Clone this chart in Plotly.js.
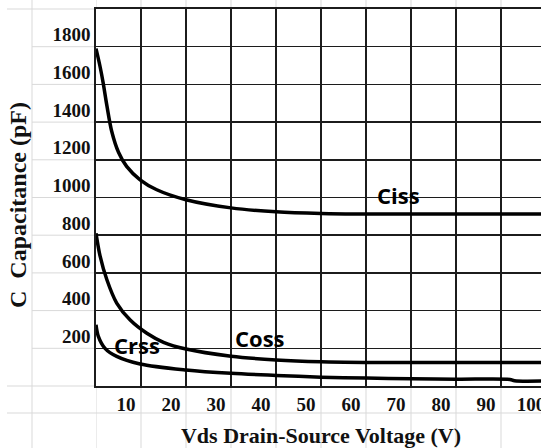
<!DOCTYPE html>
<html>
<head>
<meta charset="utf-8">
<script src="https://cdn.plot.ly/plotly-3.0.1.min.js"></script>
<style>
html,body{margin:0;padding:0;overflow:hidden;background:#ffffff;}
#chart{width:546px;height:448px;}
</style>
</head>
<body>
<div id="chart"></div>
<script>
// ---- data ----
const cissV = [0, 0.9, 1.6, 2.4, 3.5, 5, 6.8, 9.8, 13.5, 20, 30, 40, 50, 60, 70, 80, 90, 100];
const cissC = [1790, 1695, 1607, 1490, 1350, 1240, 1165, 1094, 1041, 988, 945, 924, 915, 912, 912, 912, 912, 912];

const cossV = [0, 0.9, 2.4, 4.6, 7.6, 11.3, 15, 20, 30, 40, 50, 60, 70, 80, 90, 100];
const cossC = [810, 690, 565, 440, 350, 280, 232, 196, 158, 138, 128, 125, 125, 125, 125, 125];

const crssV = [0, 0.5, 2, 4.6, 9.8, 20, 30, 40, 50, 60, 70, 80, 92, 93, 100];
const crssC = [325, 265, 200, 157, 117, 85, 67, 56, 47, 42, 38, 36, 35, 28, 27];

const seriesNames = ['Ciss', 'Coss', 'Crss'];

const xTickVals = [10, 20, 30, 40, 50, 60, 70, 80, 90, 100];
const xTickText = ['10', '20', '30', '40', '50', '60', '70', '80', '90', '100'];
const yTickVals = [200, 400, 600, 800, 1000, 1200, 1400, 1600, 1800];
const yTickText = ['200', '400', '600', '800', '1000', '1200', '1400', '1600', '1800'];

const xTitle = 'Vds Drain-Source Voltage (V)';
const yTitle = 'C  Capacitance (pF)';

// ---- build ----
const curveLine = {color: '#000000', width: 3.5, shape: 'spline', smoothing: 0.9};
const traces = [
  {x: cissV, y: cissC, name: seriesNames[0], mode: 'lines', line: curveLine},
  {x: cossV, y: cossC, name: seriesNames[1], mode: 'lines', line: curveLine},
  {x: crssV, y: crssC, name: seriesNames[2], mode: 'lines', line: curveLine}
];

const L = 96, T = 9, W = 450, H = 377;
const px2x = p => (p - L) / W;
const py2y = p => (T + H - p) / H;
const light = {color: '#d9d9d9', width: 1};
const shapes = [];
shapes.push({type: 'line', xref: 'paper', yref: 'paper', x0: px2x(32), x1: px2x(32), y0: py2y(0), y1: py2y(448), line: light, layer: 'below'});
for (let v = 0; v <= 90; v += 10) {
  shapes.push({type: 'line', xref: 'x', yref: 'paper', x0: v, x1: v, y0: py2y(0), y1: 1, line: light, layer: 'below'});
  shapes.push({type: 'line', xref: 'x', yref: 'paper', x0: v, x1: v, y0: 0, y1: py2y(448), line: light, layer: 'below'});
}
for (let v = 200; v <= 1800; v += 200) {
  shapes.push({type: 'line', xref: 'paper', yref: 'y', x0: px2x(32), x1: 0, y0: v, y1: v, line: light, layer: 'below'});
}
shapes.push({type: 'line', xref: 'paper', yref: 'paper', x0: px2x(7), x1: 0, y0: 1, y1: 1, line: light, layer: 'below'});
shapes.push({type: 'line', xref: 'paper', yref: 'paper', x0: px2x(7), x1: 0, y0: 0, y1: 0, line: light, layer: 'below'});
shapes.push({type: 'line', xref: 'paper', yref: 'paper', x0: px2x(7), x1: px2x(546), y0: py2y(413), y1: py2y(413), line: light, layer: 'below'});

const serif = 'Liberation Serif, Times New Roman, serif';
const labelFont = {family: 'Open Sans, sans-serif', size: 22, color: '#000000', weight: 'bold'};
const annotations = [
  {x: 67.3, y: 1014, text: seriesNames[0]},
  {x: 36.4, y: 255, text: seriesNames[1]},
  {x: 9.0, y: 218, text: seriesNames[2]}
].map(a => Object.assign(a, {xref: 'x', yref: 'y', showarrow: false, font: labelFont, xanchor: 'center', yanchor: 'middle'}));
// y-axis title (placed as in the spreadsheet cell)
annotations.push({
  xref: 'paper', yref: 'paper', x: px2x(18), y: py2y(205), text: yTitle, textangle: -90,
  showarrow: false, xanchor: 'center', yanchor: 'middle',
  font: {family: serif, size: 24, color: '#111111', weight: 'bold'}
});

const gridCol = '#1c1c1c';
const layout = {
  width: 546, height: 448,
  margin: {l: L, r: 0, t: T, b: 448 - T - H, pad: 0},
  paper_bgcolor: '#ffffff', plot_bgcolor: '#ffffff',
  showlegend: false,
  xaxis: {
    range: [0, 100], tickvals: xTickVals, ticktext: xTickText,
    showgrid: true, gridcolor: gridCol, gridwidth: 1.5,
    showline: true, linecolor: gridCol, linewidth: 1.8, mirror: true,
    zeroline: false, ticks: '',
    tickfont: {family: serif, size: 19, color: '#111111', weight: 'bold'},
    ticklabelshift: -15, ticklabelstandoff: 0,
    title: {text: xTitle, font: {family: serif, size: 22, color: '#111111', weight: 'bold'}, standoff: 16}
  },
  yaxis: {
    range: [0, 2000], tickvals: yTickVals, ticktext: yTickText,
    showgrid: true, gridcolor: gridCol, gridwidth: 1.5,
    showline: true, linecolor: gridCol, linewidth: 1.8, mirror: true,
    zeroline: false, ticks: '',
    tickfont: {family: serif, size: 19, color: '#111111', weight: 'bold'},
    ticklabelshift: -12, ticklabelstandoff: 0
  },
  shapes: shapes,
  annotations: annotations
};

Plotly.newPlot('chart', traces, layout, {staticPlot: true, displayModeBar: false, responsive: false});
</script>
</body>
</html>
